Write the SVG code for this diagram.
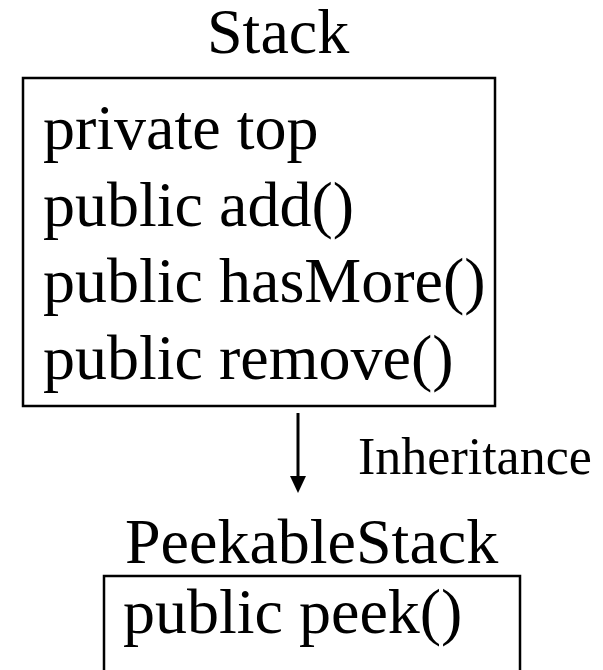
<svg xmlns="http://www.w3.org/2000/svg" width="603" height="670" viewBox="0 0 603 670">
<defs>
<style>
.t{font-family:"Liberation Serif","Times New Roman",serif;font-size:64px;fill:#000}
.lbl{font-family:"Liberation Serif","Times New Roman",serif;font-size:52px;fill:#000}
.box{fill:#fff;stroke:#000;stroke-width:2.5}
</style>
</defs>
<rect width="603" height="670" fill="#fff"/>
<g id="stack">
<text class="t" x="207" y="53">Stack</text>
<rect class="box" x="23" y="78" width="472" height="328"/>
<text class="t" x="43" y="149">private top</text>
<text class="t" x="43" y="226">public add()</text>
<text class="t" x="43" y="302">public hasMore()</text>
<text class="t" x="43" y="379">public remove()</text>
</g>
<g id="connectors">
<line x1="298" y1="413" x2="298" y2="478" stroke="#000" stroke-width="3"/>
<path d="M290,476 L306,476 L298,493 Z" fill="#000"/>
<text class="lbl" x="358" y="474">Inheritance</text>
</g>
<g id="peekablestack">
<text class="t" x="125" y="563">PeekableStack</text>
<rect class="box" x="104" y="576" width="416" height="120"/>
<text class="t" x="123" y="633">public peek()</text>
</g>
</svg>
